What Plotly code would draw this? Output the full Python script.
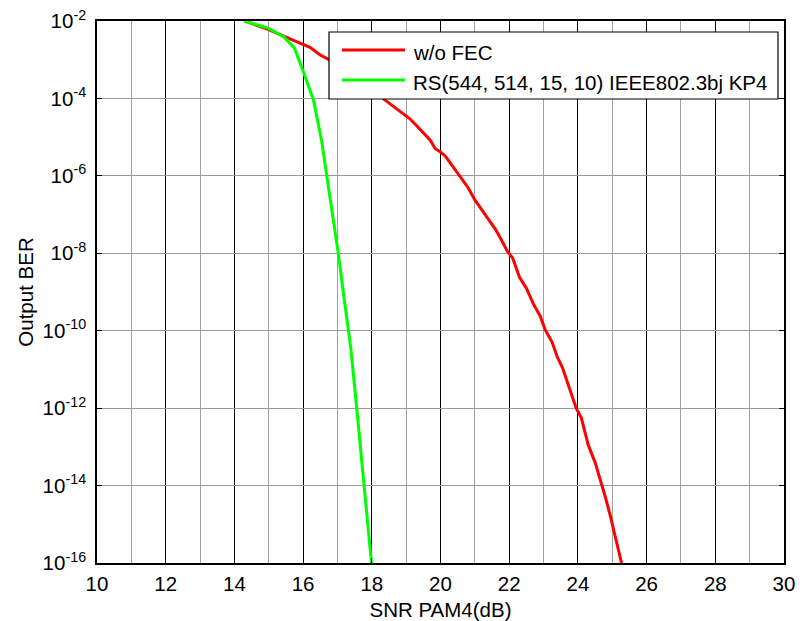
import plotly.graph_objects as go

# SNR sweep (dB) and measured output BER, stored as log10(BER)
snr_uncoded = [14.3, 15.0, 15.45, 15.9, 16.2, 16.5, 16.7, 17.5, 18.25, 18.5, 18.9,
               19.1, 19.3, 19.5, 19.7, 19.85, 20.0, 20.15, 20.3, 20.6, 20.8, 21.0,
               21.3, 21.6, 21.75, 21.95, 22.1, 22.3, 22.5, 22.7, 22.9, 23.05, 23.25,
               23.4, 23.55, 23.7, 23.95, 24.1, 24.3, 24.5, 24.7, 24.8, 24.95, 25.1, 25.27]
log_ber_uncoded = [-2.0, -2.22, -2.4, -2.57, -2.68, -2.88, -2.97, -3.45, -3.95, -4.1, -4.37,
                   -4.52, -4.7, -4.9, -5.08, -5.3, -5.38, -5.5, -5.68, -6.05, -6.3, -6.62,
                   -7.0, -7.38, -7.62, -7.95, -8.12, -8.62, -8.9, -9.3, -9.62, -9.98, -10.3,
                   -10.68, -10.95, -11.36, -12.0, -12.25, -12.95, -13.4, -13.99, -14.3, -14.8, -15.4, -16.0]

snr_kp4 = [14.3, 15.0, 15.45, 15.75, 16.0, 16.3, 16.54, 16.69, 16.85, 17.02, 17.2,
           17.39, 17.56, 17.77, 17.99]
log_ber_kp4 = [-2.0, -2.19, -2.42, -2.7, -3.29, -4.03, -5.1, -5.98, -6.9, -7.98, -9.2,
               -10.46, -11.99, -13.99, -16.0]

series_names = ["w/o FEC", "RS(544, 514, 15, 10) IEEE802.3bj KP4"]
series_colors = ["#FF0000", "#00FF00"]

x_ticks = list(range(10, 31, 2))
y_exponents = list(range(-16, -1, 2))
y_ticks = [10.0 ** e for e in y_exponents]
y_ticktext = ["10<sup>%d</sup>" % e for e in y_exponents]

FONT = "Arial, Liberation Sans, sans-serif"
FS = 20.5

fig = go.Figure()
for xs, ls, name, color in [(snr_uncoded, log_ber_uncoded, series_names[0], series_colors[0]),
                            (snr_kp4, log_ber_kp4, series_names[1], series_colors[1])]:
    fig.add_trace(go.Scatter(x=xs, y=[10.0 ** v for v in ls], mode="lines", name=name,
                             line=dict(color=color, width=3), showlegend=False))

axis_common = dict(showline=True, linecolor="black", linewidth=1.5, mirror="ticks",
                   ticks="inside", ticklen=5, tickcolor="black", tickwidth=1,
                   zeroline=False, automargin=False,
                   tickfont=dict(family=FONT, size=FS, color="black"),
                   title_font=dict(family=FONT, size=FS, color="black"))

fig.update_xaxes(range=[10, 30], tickvals=x_ticks, ticktext=[str(t) for t in x_ticks],
                 showgrid=True, gridcolor="black", gridwidth=1.2,
                 minor=dict(dtick=1, showgrid=True, gridcolor="#a0a0a0", gridwidth=1),
                 ticklabelstandoff=2,
                 title_text="SNR PAM4(dB)", title_standoff=10, **axis_common)
fig.update_yaxes(type="log", range=[-16, -2], tickvals=y_ticks, ticktext=y_ticktext,
                 showgrid=True, gridcolor="#9a9a9a", gridwidth=1,
                 ticklabelstandoff=5,
                 title_text="Output BER", title_standoff=3, **axis_common)

# legend box drawn in plot-area coordinates
L, B, W, H = 97, 563, 687, 542
def px(x):
    return (x - L) / W
def py(y):
    return (B - y) / H

shapes = [dict(type="rect", xref="paper", yref="paper", x0=px(329), x1=px(778),
               y0=py(99), y1=py(32), fillcolor="white", line=dict(color="black", width=1.2),
               layer="above")]
annotations = []
for i, (name, color) in enumerate(zip(series_names, series_colors)):
    yc = 50 + 30 * i
    shapes.append(dict(type="line", xref="paper", yref="paper", x0=px(342), x1=px(405),
                       y0=py(yc), y1=py(yc), line=dict(color=color, width=3), layer="above"))
    annotations.append(dict(xref="paper", yref="paper", x=px(411), y=py(yc + 2), text=name,
                            showarrow=False, xanchor="left", yanchor="middle",
                            font=dict(family=FONT, size=FS, color="black")))

fig.update_layout(width=811, height=621, margin=dict(l=97, r=27, t=21, b=58),
                  paper_bgcolor="white", plot_bgcolor="white",
                  shapes=shapes, annotations=annotations,
                  font=dict(family=FONT, size=FS, color="black"))

fig.write_html("out.html")
